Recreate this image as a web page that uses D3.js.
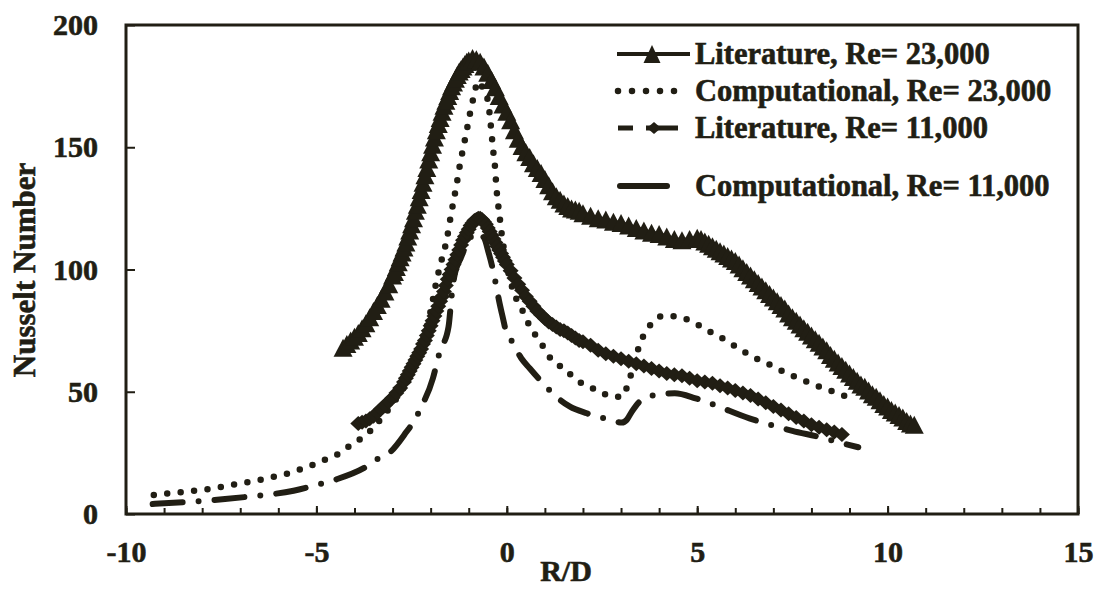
<!DOCTYPE html>
<html>
<head>
<meta charset="utf-8">
<script src="https://cdn.jsdelivr.net/npm/d3@7"></script>
<style>
    body { margin: 0; background: #ffffff; }
    text { font-family: "Liberation Serif", "Times New Roman", serif; font-weight: bold; fill: #211e14;
           stroke: #211e14; stroke-width: 0.6px; paint-order: stroke; }
</style>
</head>
<body>
<div id="chart"></div>
<script>

// Literature, Re= 23,000
var lit23X = [-4.3,-4.2,-4.1,-4.0,-3.9,-3.8,-3.7,-3.6,-3.5,-3.4,-3.3,-3.2,-3.1,
    -3.0,-2.95,-2.9,-2.85,-2.8,-2.75,-2.7,-2.65,-2.6,-2.55,-2.5,-2.45,-2.4,-2.35,-2.3,-2.25,-2.2,-2.15,-2.1,-2.05,
    -2.0,-1.95,-1.9,-1.85,-1.8,-1.75,-1.7,-1.65,-1.6,-1.55,-1.5,-1.45,-1.4,-1.35,-1.3,-1.25,-1.2,-1.15,-1.1,-1.05,-1.0,
    -0.9,-0.8,-0.7,-0.6,-0.5,-0.4,-0.3,-0.2,-0.1,0.0,0.1,0.2,0.3,0.4,0.5,0.6,0.7,0.8,0.9,1.0,
    1.1,1.2,1.3,1.4,1.5,1.6,1.7,1.8,1.9,2.0,
    2.2,2.4,2.6,2.8,3.0,3.2,3.4,3.6,3.8,4.0,4.2,4.4,4.6,4.8,5.0,
    5.1,5.2,5.3,5.4,5.5,5.6,5.7,5.8,5.9,6.0,6.1,6.2,6.3,6.4,6.5,6.6,6.7,6.8,6.9,7.0,
    7.1,7.2,7.3,7.4,7.5,7.6,7.7,7.8,7.9,8.0,8.1,8.2,8.3,8.4,8.5,8.6,8.7,8.8,8.9,9.0,
    9.1,9.2,9.3,9.4,9.5,9.6,9.7,9.8,9.9,10.0,10.1,10.2,10.3,10.4,10.5,10.6,10.7];
var lit23Y = [68,69.5,71,72.5,74,76,78,80.5,83,85.5,88,91,94,
    97.5,99,101,103,105,107,109,111,113.5,116,118.5,121,124,126.5,129.5,132.5,135.5,138.5,141.5,145,
    148,151,154,157,159.5,162,164.5,167,169,171,173,175,176.5,178,179.5,181,182,183,184,185,185.5,
    186.5,186,185,183,180.5,177.5,174.5,171,167.5,164.5,161,157,153.5,150.5,148,146,143.5,141.5,139.5,137,
    134.5,132,130,128.5,127,126,125,124.5,124,123,
    122,121,120.5,119.5,119,118,117,116,115,114.5,113.5,112.5,112,112.5,113,
    112.5,111.5,110.5,109.5,108.5,107.5,106.5,105.5,104.5,103.5,102,100.5,99,97.5,96,94.5,93,91.5,90,88.5,
    87,85.5,84,82,80.5,79,77.5,76,74.5,73,71.5,70,68.5,67,65,63.5,62,60.5,59,57.5,
    56,54.5,53,52,50.5,49,48,46.5,45,44,42.5,41.5,40.5,39.5,38,37,36.5];

// Computational, Re= 23,000
var comp23X = [-9.27,-8.86,-8.46,-8.08,-7.69,-7.32,-6.97,-6.58,-6.23,-5.88,-5.54,-5.22,-4.94,-4.67,-4.37,-4.16,-3.95,-3.74,-3.56,-3.3,
    -3.0,-2.7,-2.4,-2.2,-2.0,-1.84,-1.71,-1.58,-1.47,-1.32,-1.23,-1.14,-1.05,-0.99,-0.88,-0.75,-0.6,-0.49,-0.44,-0.40,
    -0.36,-0.31,-0.27,-0.23,-0.18,-0.13,-0.05,0.1,0.25,0.43,0.61,0.78,0.96,1.18,1.40,1.57,1.75,1.92,2.18,2.45,
    2.76,3.02,3.19,3.35,3.5,3.63,3.85,4.11,4.5,4.81,5.11,5.33,5.59,5.86,6.12,6.38,6.67,6.98,7.27,7.61,
    7.94,8.27,8.62,8.97];
var comp23Y = [7.8,8.5,9.1,9.8,10.5,11.6,12.6,13.6,14.9,16,17.6,19.4,21,23,25,27.5,29.6,31.9,34.4,39,
    45,52,62,71,83,95.7,104,112,122,134.6,143,150,157,162,170,177,173,168.6,162,155.7,
    149,142,133,127,120.6,114,106,95,88,82.7,76.6,72.5,68.4,63,60.5,57.8,56.5,54,52,50,
    48,48,53.5,62,69.8,74,78.7,81,80.7,79,76.6,74.6,72.5,70,67.4,65,62.7,60.5,58.2,55.8,
    53.7,51.7,49.8,47.7];

// Literature, Re= 11,000
var lit11X = [-3.9,-3.8,-3.7,-3.6,-3.5,-3.4,-3.3,-3.2,-3.1,-3.0,-2.9,-2.8,-2.7,
    -2.65,-2.6,-2.55,-2.5,-2.45,-2.4,-2.35,-2.3,-2.25,-2.2,-2.15,-2.1,-2.05,-2.0,-1.95,-1.9,-1.85,-1.8,-1.75,-1.7,
    -1.65,-1.6,-1.55,-1.5,-1.45,-1.4,-1.35,-1.3,-1.25,-1.2,-1.15,-1.1,-1.05,-1.0,-0.95,-0.9,-0.85,-0.8,-0.75,-0.7,
    -0.65,-0.6,-0.55,-0.5,-0.45,-0.4,-0.35,-0.3,-0.25,-0.2,-0.15,-0.1,-0.05,0.0,
    0.1,0.2,0.3,0.4,0.5,0.6,0.7,0.8,0.9,1.0,1.1,1.2,1.3,1.4,1.5,1.6,1.7,1.8,1.9,2.0,
    2.2,2.4,2.6,2.8,3.0,3.2,3.4,3.6,3.8,4.0,4.2,4.4,4.6,4.8,5.0,5.2,5.4,5.6,5.8,6.0,
    6.2,6.4,6.6,6.8,7.0,7.2,7.4,7.6,7.8,8.0,8.2,8.4,8.6,8.8];
var lit11Y = [37,37.5,38,39,40,41.5,43,44.5,46,47.5,49.5,51.5,54,
    55.5,57,58.5,60,61.5,63,64.5,66,67.5,69.5,71,73,75,77,79,81,83,85,87,89,
    91,93.5,96,98,100,102,104,106,108,110,112,113.5,115,116.5,118,119,120,120.5,121,121,
    120.5,119.5,118.5,117,115.5,114,112.5,111,109.5,108,106.5,105,103.5,102,
    99.5,96.5,94,91.5,89,87,85,83,81.5,80,78.5,77.5,76.5,75.5,75,74,73,72,71,70.5,
    69,67,65.5,64.5,63.5,62.5,61.5,60.5,59.5,58.5,57.5,57,56.5,55.5,54.5,54,53.5,52.5,51.5,50.5,
    49.5,48.5,47,45.5,44,42.5,41,39.5,38,36.5,35.5,34.5,33.5,32.5];

// Computational, Re= 11,000
var comp11X = [-9.3,-8.03,-7.4,-6.78,-5.6,-5.06,-4.53,-3.74,-3.39,-3.05,-2.63,-2.42,-2.22,-1.94,-1.86,-1.77,-1.53,-1.45,-1.38,-1.2,
    -1.0,-0.8,-0.6,-0.48,-0.38,-0.3,-0.2,-0.1,-0.02,0.12,0.38,0.6,0.83,1.35,1.66,2.1,2.6,3.02,3.15,3.28,
    3.49,3.9,4.41,4.96,5.45,6.37,6.94,7.5,8.2,8.8,9.23];
var comp11Y = [4.1,5.3,6.1,7.1,9.5,11.6,13.9,18.9,22.5,25.5,33.7,38.4,44.6,55.5,60.3,65.8,76.6,89,97,105,
    112,115,113,107,101,95,87,80,74.6,71,63.7,59.6,55.5,47.3,43.9,41.2,39,37.4,38.5,41.8,
    46,48.7,49.4,47.3,44.6,39.1,36.4,34,31.5,29,27.3];

var legendLabels = ["Literature, Re= 23,000", "Computational, Re= 23,000", "Literature, Re= 11,000", "Computational, Re= 11,000"];
var xMajorTicks = [-10, -5, 0, 5, 10, 15];
var yTicks = [0, 50, 100, 150, 200];

var ink = "#211e14";

const margin = {top: 25, right: 22, bottom: 76, left: 126},
    width = 1100 - margin.left - margin.right,
    height = 590 - margin.top - margin.bottom;

const svg = d3.select("#chart")
    .append("svg")
    .attr("width", width + margin.left + margin.right)
    .attr("height", height + margin.top + margin.bottom)
    .append("g")
    .attr("transform", "translate(" + margin.left + "," + margin.top + ")");

var xScale = d3.scaleLinear().domain([-10, 15]).range([0, width]);
var yScale = d3.scaleLinear().domain([0, 200]).range([height, 0]);

function pairs(xs, ys) { return d3.zip(xs, ys); }

// minor ticks every 1 unit, pointing into the plot
svg.append("g")
    .attr("class", "x-minor")
    .attr("transform", "translate(0," + height + ")")
    .call(d3.axisBottom(xScale).ticks(25).tickSize(-6).tickFormat(""));

svg.append("g")
    .attr("class", "x-axis")
    .attr("transform", "translate(0," + height + ")")
    .call(d3.axisBottom(xScale)
        .tickValues(xMajorTicks)
        .tickSize(-8)
        .tickPadding(27)
        .tickFormat(function (d) { return String(d); }));

svg.append("g")
    .attr("class", "y-axis")
    .call(d3.axisLeft(yScale)
        .tickValues(yTicks)
        .tickSize(-9)
        .tickPadding(28)
        .tickFormat(function (d) { return String(d); }));

svg.selectAll(".domain").remove();
svg.selectAll(".tick line").attr("stroke", ink).attr("stroke-width", 2);
svg.selectAll(".tick text")
    .style("font-size", "30px")
    .style("font-family", "'Liberation Serif', 'Times New Roman', serif")
    .style("font-weight", "bold")
    .attr("fill", ink);

// frame
svg.append("rect")
    .attr("x", 0).attr("y", 0)
    .attr("width", width).attr("height", height)
    .attr("fill", "none")
    .attr("stroke", ink)
    .attr("stroke-width", 3);

// axis titles
svg.append("text")
    .attr("transform", "translate(" + (35 - margin.left) + "," + (270 - margin.top) + ") rotate(-90)")
    .attr("text-anchor", "middle")
    .style("font-size", "31px")
    .text("Nusselt Number");

svg.append("text")
    .attr("x", 566 - margin.left)
    .attr("y", 581 - margin.top)
    .attr("text-anchor", "middle")
    .style("font-size", "30px")
    .text("R/D");

// marker shapes
function triangle(w, h) { return "M0," + (-h / 2) + "L" + (w / 2) + "," + (h / 2) + "L" + (-w / 2) + "," + (h / 2) + "Z"; }
function diamond(w, h) { return "M0," + (-h / 2) + "L" + (w / 2) + ",0L0," + (h / 2) + "L" + (-w / 2) + ",0Z"; }

var lineStraight = d3.line()
    .x(function (d) { return xScale(d[0]); })
    .y(function (d) { return yScale(d[1]); });

var lineSmooth = d3.line()
    .curve(d3.curveMonotoneX)
    .x(function (d) { return xScale(d[0]); })
    .y(function (d) { return yScale(d[1]); });

var styles = {
    comp11: {width: 6, dash: "30 16 0 16"},
    comp23: {width: 6.5, dash: "0 13.5"},
    lit23: {width: 4, dash: null},
    lit11: {width: 5, dash: "15 13 32 13"}
};

// Computational, Re= 11,000 (long dash-dot)
svg.append("path")
    .datum(pairs(comp11X, comp11Y))
    .attr("d", lineSmooth)
    .attr("fill", "none")
    .attr("stroke", ink)
    .attr("stroke-width", styles.comp11.width)
    .attr("stroke-linecap", "round")
    .attr("stroke-dasharray", styles.comp11.dash);

// Computational, Re= 23,000 (round dots)
svg.append("path")
    .datum(pairs(comp23X, comp23Y))
    .attr("d", lineSmooth)
    .attr("fill", "none")
    .attr("stroke", ink)
    .attr("stroke-width", styles.comp23.width)
    .attr("stroke-linecap", "round")
    .attr("stroke-dasharray", styles.comp23.dash);

// Literature, Re= 23,000 (solid + triangles)
var lit23 = pairs(lit23X, lit23Y);
svg.append("path")
    .datum(lit23)
    .attr("d", lineStraight)
    .attr("fill", "none")
    .attr("stroke", ink)
    .attr("stroke-width", styles.lit23.width);

svg.selectAll("path.tri")
    .data(lit23)
    .enter()
    .append("path")
    .attr("class", "tri")
    .attr("transform", function (d) { return "translate(" + xScale(d[0]) + "," + yScale(d[1]) + ")"; })
    .attr("d", triangle(19, 18))
    .attr("fill", ink);

// Literature, Re= 11,000 (dashed + diamonds)
var lit11 = pairs(lit11X, lit11Y);
svg.append("path")
    .datum(lit11)
    .attr("d", lineStraight)
    .attr("fill", "none")
    .attr("stroke", ink)
    .attr("stroke-width", styles.lit11.width)
    .attr("stroke-dasharray", styles.lit11.dash);

svg.selectAll("path.dia")
    .data(lit11)
    .enter()
    .append("path")
    .attr("class", "dia")
    .attr("transform", function (d) { return "translate(" + xScale(d[0]) + "," + yScale(d[1]) + ")"; })
    .attr("d", diamond(16, 15))
    .attr("fill", ink);

// legend (page coordinates)
var legend = d3.select("#chart").select("svg").append("g").attr("class", "legend");
var rowY = [54, 91, 128, 186];

legend.selectAll("text")
    .data(legendLabels)
    .enter()
    .append("text")
    .attr("x", 695)
    .attr("y", function (d, i) { return rowY[i] + 10; })
    .style("font-size", "30.5px")
    .text(function (d) { return d; });

legend.append("line")
    .attr("x1", 617).attr("x2", 690).attr("y1", rowY[0]).attr("y2", rowY[0])
    .attr("stroke", ink).attr("stroke-width", styles.lit23.width);
legend.append("path")
    .attr("transform", "translate(652," + rowY[0] + ")")
    .attr("d", triangle(17, 18))
    .attr("fill", ink);

legend.append("line")
    .attr("x1", 618).attr("x2", 688).attr("y1", rowY[1]).attr("y2", rowY[1])
    .attr("stroke", ink).attr("stroke-width", styles.comp23.width)
    .attr("stroke-linecap", "round").attr("stroke-dasharray", "0 14");

legend.append("line")
    .attr("x1", 618).attr("x2", 678).attr("y1", rowY[2]).attr("y2", rowY[2])
    .attr("stroke", ink).attr("stroke-width", styles.lit11.width)
    .attr("stroke-dasharray", styles.lit11.dash);
legend.append("path")
    .attr("transform", "translate(654," + rowY[2] + ")")
    .attr("d", diamond(14, 12))
    .attr("fill", ink);

legend.append("line")
    .attr("x1", 620).attr("x2", 667).attr("y1", rowY[3]).attr("y2", rowY[3])
    .attr("stroke", ink).attr("stroke-width", styles.comp11.width)
    .attr("stroke-linecap", "round");

</script>
</body>
</html>
